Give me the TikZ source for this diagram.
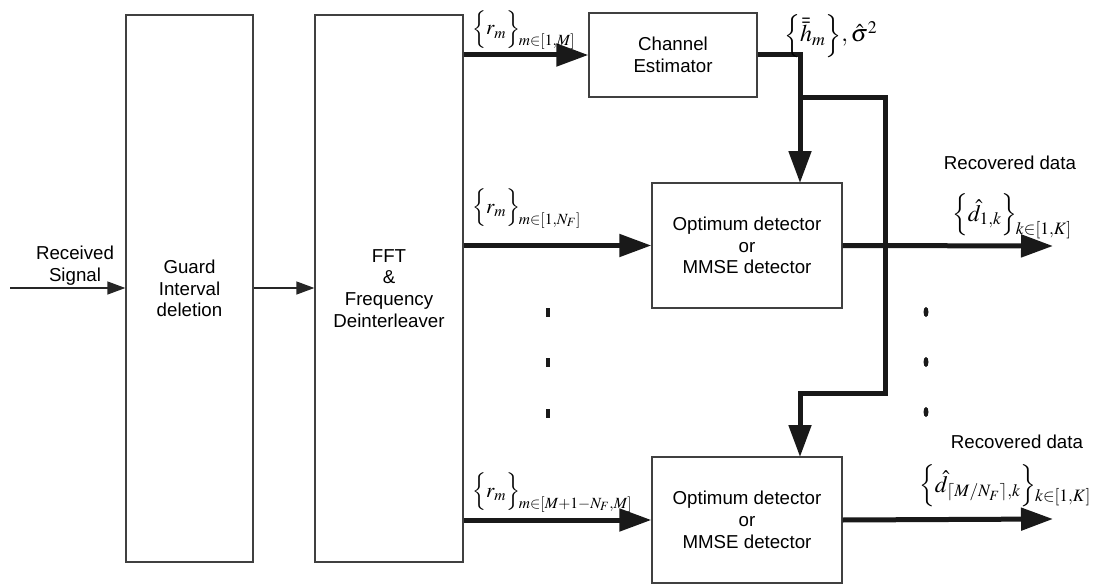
\documentclass[tikz,border=0pt]{standalone}
\usepackage{mathptmx}
\usepackage[no-math]{fontspec}
\setmainfont{Liberation Sans}
\usetikzlibrary{arrows.meta,calc,shapes.geometric}
\newcommand{\setlab}[3]{$\Bigl\{ #1 \Bigr\}\mkern-1mu$\raisebox{-#3}{$\scriptstyle #2$}}
\begin{document}
\begin{tikzpicture}[x=1pt,y=-1pt,
  blk/.style={draw=black!75,line width=1.3pt,rectangle,inner sep=0pt,align=center,
     font=\fontsize{18.7}{21.7}\selectfont},
  thinarr/.style={draw=black!85,line width=1.3pt,-{Triangle[length=18pt,width=13pt]}},
  thickarr/.style={draw=black!90,line width=5pt,-{Triangle[length=32pt,width=22pt]}},
  thickline/.style={draw=black!90,line width=5pt},
  txt/.style={inner sep=0pt,align=center,font=\fontsize{18.7}{21.7}\selectfont},
  mlab/.style={inner sep=0pt,anchor=base west,font=\fontsize{21}{24}\selectfont},
  sqdot/.style={fill=black!90,minimum width=4pt,minimum height=9pt,inner sep=0pt,rectangle},
  rddot/.style={fill=black!90,minimum width=5pt,minimum height=10pt,inner sep=0pt,ellipse}
]
\useasboundingbox (0,0) rectangle (1096,586);
% blocks
\node[blk,minimum width=127pt,minimum height=547pt] (guard) at (189.5,288.5) {Guard\\Interval\\deletion};
\node[blk,minimum width=148pt,minimum height=547pt] (fft) at (389,288.5) {FFT\\\&\\Frequency\\Deinterleaver};
\node[blk,minimum width=168pt,minimum height=84pt] (chest) at (673,55) {Channel\\Estimator};
\node[blk,minimum width=190pt,minimum height=125pt] (det1) at (747,245.5) {Optimum detector\\or\\MMSE detector};
\node[blk,minimum width=190pt,minimum height=126pt] (det2) at (747,520) {Optimum detector\\or\\MMSE detector};
% coordinates
\coordinate (in) at (10,288);
\coordinate (a1) at (800,183);
\coordinate (j1) at (800,98);
\coordinate (j2) at (885,98);
\coordinate (j3) at (885,393);
\coordinate (j4) at (800,393);
\coordinate (a2) at (800,457);
\coordinate (o1) at (1053,246);
\coordinate (o2) at (1053,519);
% thin arrows
\draw[thinarr] (in) -- (guard.west |- in);
\draw[thinarr] (guard.east |- in) -- (fft.west |- in);
% thick arrows
\draw[thickarr] (fft.east |- chest.west) -- (chest.west);
\draw[thickarr] (fft.east |- det1.west) -- (det1.west);
\draw[thickarr] (fft.east |- det2.west) -- (det2.west);
\draw[thickarr] (chest.east) -| (a1);
\draw[thickline,line join=miter] (j1) -- (j2) -- (j3) -- (j4);
\draw[thickarr,line join=miter] (j3) -- (j4) -- (a2);
\draw[thickarr] (det1.east) -- (o1);
\draw[thickarr] (det2.east) -- (o2);
% dots
\node[sqdot] (l1) at (548,312) {};
\node[sqdot] (l2) at (548,362) {};
\node[sqdot] (l3) at (548,413) {};
\node[rddot] (r1) at (926,312) {};
\node[rddot] (r2) at (926,362) {};
\node[rddot] (r3) at (926,412) {};
% labels
\node[txt] (rs) at (75,266) {Received\\Signal};
\node[txt] (rd1) at (1010,163) {Recovered data};
\node[txt] (rd2) at (1017,442) {Recovered data};
\node[mlab] (lr1) at (472,35) {\setlab{r_m}{m\in[1,M]}{11pt}};
\node[mlab] (lr2) at (472,213) {\setlab{r_m}{m\in[1,N_F]}{11pt}};
\node[mlab] (lr3) at (472,497) {\setlab{r_m}{m\in[M+1-N_F,M]}{11pt}};
\node[mlab,font=\fontsize{24}{26}\selectfont] (lh) at (784,42) {$\Bigl\{ \bar{\bar{h}}_m \Bigr\}, \hat{\sigma}^2$};
\node[mlab,font=\fontsize{23.5}{26}\selectfont] (ld1) at (952,221) {\setlab{\hat{d}_{1,k}}{k\in[1,K]}{13pt}};
\node[mlab,font=\fontsize{23.5}{26}\selectfont] (ld2) at (919,492) {\setlab{\hat{d}_{\lceil M/N_F\rceil,k}}{k\in[1,K]}{9pt}};
\end{tikzpicture}
\end{document}
